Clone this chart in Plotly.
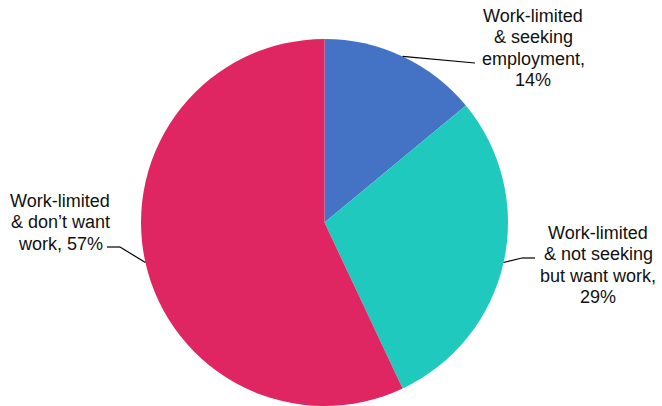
import math
import plotly.graph_objects as go

# Share of work-limited people by employment intention
categories = [
    "Work-limited & seeking employment",
    "Work-limited & not seeking but want work",
    "Work-limited & don\u2019t want work",
]
shares = [14, 29, 57]
label_lines = [
    ["Work-limited", "& seeking", "employment,", "14%"],
    ["Work-limited", "& not seeking", "but want work,", "29%"],
    ["Work-limited", "& don\u2019t want", "work, 57%"],
]
colors = ["#4472C4", "#20C9BE", "#E02563"]

W, H = 662, 406
# pie geometry in pixels
cx, cy, r = 324.5, 222.5, 183.5

fig = go.Figure(
    go.Pie(
        labels=categories,
        values=shares,
        sort=False,
        direction="clockwise",
        rotation=0,
        marker=dict(colors=colors, line=dict(width=0)),
        textinfo="none",
        hoverinfo="label+percent",
        domain=dict(x=[(cx - r) / W, (cx + r) / W], y=[1 - (cy + r) / H, 1 - (cy - r) / H]),
        showlegend=False,
    )
)


def px(x, y):
    return x / W, 1 - y / H


# label placement: text block centre, first-line y, and leader-line bends
label_layout = [
    dict(x=533, y0=16, bends=[(475, 63)]),
    dict(x=598, y0=233, bends=[(522, 258), (535, 258)]),
    dict(x=60, y0=201, bends=[(120, 247), (107, 247)]),
]
line_gap = 21.3

total = sum(shares)
cum = 0
for val, lines, lay in zip(shares, label_lines, label_layout):
    mid = (cum + val / 2) / total * 2 * math.pi
    cum += val
    sx = cx + r * math.sin(mid)
    sy = cy - r * math.cos(mid)
    pts = [(sx, sy)] + lay["bends"]
    for (x1, y1), (x2, y2) in zip(pts[:-1], pts[1:]):
        a, b = px(x1, y1)
        c, d = px(x2, y2)
        fig.add_shape(type="line", xref="paper", yref="paper", x0=a, y0=b, x1=c, y1=d,
                      line=dict(color="#000000", width=1.2))
    for i, txt in enumerate(lines):
        ax, ay = px(lay["x"], lay["y0"] + i * line_gap)
        fig.add_annotation(x=ax, y=ay, xref="paper", yref="paper", text=txt,
                           showarrow=False, xanchor="center", yanchor="middle",
                           font=dict(family="Liberation Sans, Arial, sans-serif", size=18, color="#111111"))

fig.update_layout(
    width=W,
    height=H,
    margin=dict(l=0, r=0, t=0, b=0),
    paper_bgcolor="white",
    plot_bgcolor="white",
)

fig.write_html("out.html")
